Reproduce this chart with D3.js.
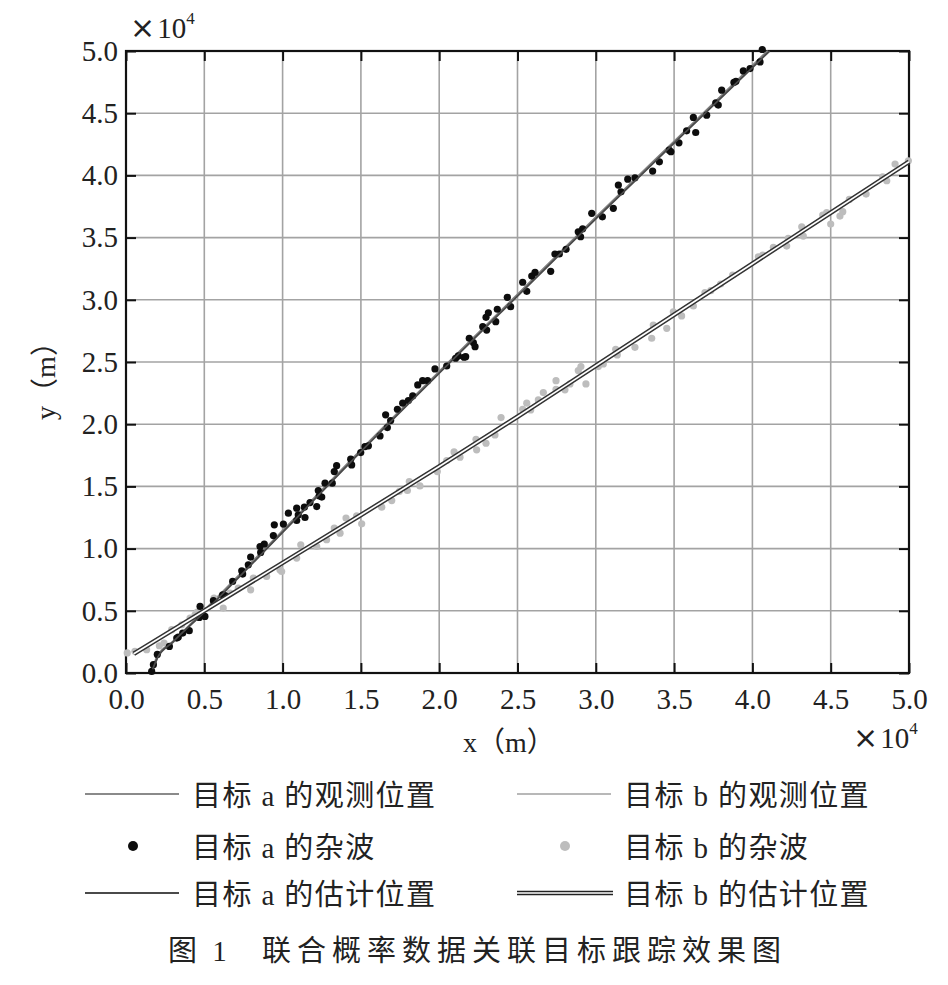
<!DOCTYPE html>
<html>
<head>
<meta charset="utf-8">
<script src="https://cdn.jsdelivr.net/npm/d3@7"></script>
<style>
  html, body { margin: 0; padding: 0; background: #fff; }
  svg { display: block; }
  .serif { font-family: "Liberation Serif", "Noto Sans CJK SC", serif; }
  .cjk { font-family: "Liberation Serif", "Noto Sans CJK SC", serif; }
</style>
</head>
<body>
<svg id="chart" width="948" height="985"></svg>
<script>
// ---------- data (axis units are ×10^4 m, as displayed) ----------
const xTicks = [0, 0.5, 1, 1.5, 2, 2.5, 3, 3.5, 4, 4.5, 5];
const yTicks = [0, 0.5, 1, 1.5, 2, 2.5, 3, 3.5, 4, 4.5, 5];

// target a: observed track and estimated track
const aObsX = [0.166, 0.20, 0.30, 0.50, 1.00, 1.50, 2.00, 2.50, 3.00, 3.50, 4.10];
const aObsY = [0.00, 0.13, 0.25, 0.50, 1.14, 1.79, 2.42, 3.04, 3.66, 4.27, 5.00];
const aEstX = [0.170, 0.20, 0.30, 0.50, 1.00, 1.50, 2.00, 2.50, 3.00, 3.50, 4.11];
const aEstY = [0.03, 0.12, 0.25, 0.49, 1.13, 1.78, 2.41, 3.03, 3.65, 4.26, 5.00];

// target b: observed track and estimated track
const bObsX = [0.05, 0.50, 1.00, 1.50, 2.00, 2.50, 3.00, 3.50, 4.00, 4.50, 5.00];
const bObsY = [0.16, 0.50, 0.89, 1.27, 1.67, 2.07, 2.47, 2.88, 3.29, 3.70, 4.11];
const bEstX = [0.05, 0.50, 1.00, 1.50, 2.00, 2.50, 3.00, 3.50, 4.00, 4.50, 5.00];
const bEstY = [0.155, 0.50, 0.885, 1.27, 1.66, 2.06, 2.47, 2.88, 3.29, 3.70, 4.11];

// clutter of target a (black dots)
const aClutX = [0.164,0.175,0.200,0.277,0.324,0.334,0.362,0.404,0.473,0.468,0.504,0.558,0.617,0.632,0.681,0.739,0.745,0.781,0.796,0.856,0.860,0.883,0.941,0.947,1.005,1.037,1.090,1.090,1.100,1.143,1.139,1.175,1.218,1.228,1.234,1.250,1.271,1.317,1.330,1.345,1.435,1.441,1.499,
  1.526,1.548,1.622,1.669,1.658,1.690,1.733,1.767,1.803,1.831,1.863,1.894,1.926,1.973,2.048,2.105,2.122,2.159,2.169,2.192,2.218,2.229,2.278,2.303,2.299,2.314,2.361,2.371,2.435,2.456,2.533,2.559,2.591,2.612,2.712,2.739,2.767,2.810,2.888,2.903,2.916,2.974,
  3.042,3.112,3.144,3.161,3.204,3.250,3.363,3.406,3.469,3.480,3.531,3.580,3.638,3.623,3.708,3.766,3.782,3.804,3.882,3.895,3.942,3.985,4.049,4.063];
const aClutY = [0.013,0.067,0.149,0.214,0.281,0.289,0.321,0.340,0.535,0.447,0.455,0.581,0.629,0.623,0.736,0.822,0.795,0.870,0.932,1.017,0.969,1.036,1.105,1.191,1.197,1.285,1.325,1.226,1.271,1.250,1.333,1.370,1.338,1.467,1.424,1.414,1.526,1.526,1.619,1.667,1.719,1.673,1.772,
  1.820,1.826,1.906,1.973,2.075,2.029,2.120,2.169,2.190,2.227,2.316,2.350,2.350,2.444,2.468,2.530,2.549,2.538,2.543,2.691,2.656,2.623,2.784,2.757,2.859,2.896,2.824,2.924,3.020,2.945,3.141,3.068,3.191,3.221,3.229,3.368,3.368,3.406,3.547,3.507,3.571,3.695,
  3.667,3.735,3.922,3.868,3.970,3.981,4.035,4.109,4.203,4.190,4.262,4.358,4.345,4.466,4.484,4.583,4.565,4.685,4.747,4.757,4.840,4.859,4.912,5.012];

// clutter of target b (grey dots)
const bClutX = [0.008,0.057,0.132,0.213,0.243,0.292,0.356,0.409,0.441,0.455,0.562,0.621,0.664,0.717,0.796,0.813,0.898,0.983,0.994,1.090,1.116,1.218,1.281,1.330,1.367,1.405,1.473,1.505,1.633,1.697,1.745,
  1.797,1.809,1.877,1.988,2.048,2.095,2.133,2.235,2.239,2.299,2.356,2.395,2.533,2.559,2.584,2.633,2.665,2.746,2.746,2.803,2.835,2.888,2.905,2.937,3.016,
  3.048,3.127,3.137,3.250,3.357,3.367,3.453,3.495,3.548,3.623,3.697,3.734,3.797,3.874,4.038,4.066,4.134,4.219,4.229,4.315,4.325,4.449,4.474,4.500,4.559,4.577,4.619,4.726,4.832,4.858,4.911,4.996];
const bClutY = [0.161,0.174,0.187,0.219,0.241,0.348,0.388,0.442,0.468,0.490,0.602,0.522,0.643,0.683,0.669,0.763,0.776,0.830,0.816,0.924,1.031,1.017,1.071,1.165,1.124,1.245,1.263,1.199,1.333,1.386,1.459,
  1.467,1.539,1.504,1.619,1.708,1.777,1.735,1.879,1.794,1.847,1.914,2.053,2.120,2.169,2.115,2.195,2.254,2.350,2.281,2.276,2.324,2.431,2.463,2.324,2.463,
  2.484,2.602,2.557,2.618,2.691,2.797,2.771,2.904,2.870,2.950,3.057,3.073,3.127,3.199,3.346,3.360,3.421,3.432,3.494,3.587,3.512,3.681,3.700,3.609,3.673,3.708,3.807,3.850,3.989,3.957,4.091,4.117];

const legendItems = [
  {label: "目标 a 的观测位置", kind: "line", col: 0, row: 0},
  {label: "目标 b 的观测位置", kind: "line", col: 1, row: 0},
  {label: "目标 a 的杂波", kind: "dot", col: 0, row: 1},
  {label: "目标 b 的杂波", kind: "dot", col: 1, row: 1},
  {label: "目标 a 的估计位置", kind: "line", col: 0, row: 2},
  {label: "目标 b 的估计位置", kind: "double", col: 1, row: 2}
];
const caption = ["图 1", "联合概率数据关联目标跟踪效果图"];

// ---------- drawing ----------
const svg = d3.select("#chart");
const L = 126, R = 909, T = 51, B = 673;
const x = d3.scaleLinear().domain([0, 5]).range([L, R]);
const y = d3.scaleLinear().domain([0, 5]).range([B, T]);
const zip = (xs, ys) => xs.map((v, i) => [v, ys[i]]);

// grid
const grid = svg.append("g");
grid.selectAll(".gx").data(xTicks.slice(1, -1)).join("line")
  .attr("x1", d => x(d)).attr("x2", d => x(d)).attr("y1", T).attr("y2", B)
  .attr("stroke", "#a3a3a3").attr("stroke-width", 1.6);
grid.selectAll(".gy").data(yTicks.slice(1, -1)).join("line")
  .attr("y1", d => y(d)).attr("y2", d => y(d)).attr("x1", L).attr("x2", R)
  .attr("stroke", "#a3a3a3").attr("stroke-width", 1.6);

// axes (ticks inward)
const fmt = d3.format(".1f");
const styleAxis = g => {
  g.select(".domain").remove();
  g.selectAll(".tick line").attr("stroke", "#111").attr("stroke-width", 2);
  g.selectAll(".tick text").attr("fill", "#222").attr("class", "serif").attr("font-size", 29);
};
svg.append("g").attr("transform", `translate(0,${B})`)
  .call(d3.axisBottom(x).tickValues(xTicks).tickFormat(fmt).tickSizeInner(-10).tickSizeOuter(0).tickPadding(14))
  .call(styleAxis)
  .call(g => g.selectAll(".tick text").attr("dy", "0.75em"));
svg.append("g").attr("transform", `translate(0,${T})`)
  .call(d3.axisTop(x).tickValues(xTicks).tickFormat("").tickSizeInner(-10).tickSizeOuter(0))
  .call(styleAxis);
svg.append("g").attr("transform", `translate(${L},0)`)
  .call(d3.axisLeft(y).tickValues(yTicks).tickFormat(fmt).tickSizeInner(-10).tickSizeOuter(0).tickPadding(8))
  .call(styleAxis);
svg.append("g").attr("transform", `translate(${R},0)`)
  .call(d3.axisRight(y).tickValues(yTicks).tickFormat("").tickSizeInner(-10).tickSizeOuter(0))
  .call(styleAxis);

// frame
svg.append("rect").attr("x", L).attr("y", T).attr("width", R - L).attr("height", B - T)
  .attr("fill", "none").attr("stroke", "#111").attr("stroke-width", 2.2);

// lines
const line = d3.line().x(d => x(d[0])).y(d => y(d[1])).curve(d3.curveMonotoneX);
const plot = svg.append("g");
plot.append("path").attr("d", line(zip(bObsX, bObsY))).attr("fill", "none")
  .attr("stroke", "#b8b8b8").attr("stroke-width", 2);
plot.append("path").attr("d", line(zip(aObsX, aObsY))).attr("fill", "none")
  .attr("stroke", "#808080").attr("stroke-width", 2.6);

// clutter dots
plot.selectAll(".bd").data(zip(bClutX, bClutY)).join("circle")
  .attr("cx", d => x(d[0])).attr("cy", d => y(d[1])).attr("r", 3.6).attr("fill", "#bdbdbd");
plot.selectAll(".ad").data(zip(aClutX, aClutY)).join("circle")
  .attr("cx", d => x(d[0])).attr("cy", d => y(d[1])).attr("r", 3.6).attr("fill", "#0d0d0d");

// estimated lines
plot.append("path").attr("d", line(zip(aEstX, aEstY))).attr("fill", "none")
  .attr("stroke", "#4a4a4a").attr("stroke-width", 1.8);
plot.append("path").attr("d", line(zip(bEstX, bEstY))).attr("fill", "none")
  .attr("stroke", "#333").attr("stroke-width", 4.6);
plot.append("path").attr("d", line(zip(bEstX, bEstY))).attr("fill", "none")
  .attr("stroke", "#fff").attr("stroke-width", 1.6);

// exponent labels
const expo = (xx, yy) => {
  const t = svg.append("text").attr("x", xx).attr("y", yy).attr("fill", "#222");
  t.append("tspan").attr("font-family", "'DejaVu Sans', sans-serif").attr("font-size", 30).text("×");
  t.append("tspan").attr("font-family", "'Liberation Serif', serif").attr("font-size", 29).attr("dx", 2).text("10");
  t.append("tspan").attr("font-family", "'Liberation Serif', serif").attr("font-size", 17).attr("dy", -14).text("4");
};
expo(130, 38);
expo(853, 748);

// axis labels
svg.append("text").attr("class", "cjk").attr("x", 463).attr("y", 742)
  .attr("dominant-baseline", "central").attr("font-size", 28).attr("fill", "#222").text("x（m）");
svg.append("text").attr("class", "cjk")
  .attr("transform", "translate(45,374) rotate(-90)")
  .attr("text-anchor", "middle").attr("dominant-baseline", "central")
  .attr("font-size", 28).attr("fill", "#222").text("y（m）");

// legend
const colX = [85, 517], rowY = [794, 846, 893];
const lg = svg.append("g");
legendItems.forEach(it => {
  const x0 = colX[it.col], yy = rowY[it.row];
  const g = lg.append("g");
  if (it.kind === "line") {
    const stroke = it.col === 0 ? (it.row === 0 ? "#8a8a8a" : "#4a4a4a") : "#b8b8b8";
    g.append("line").attr("x1", x0).attr("x2", x0 + 94).attr("y1", yy).attr("y2", yy)
      .attr("stroke", stroke).attr("stroke-width", 2);
  } else if (it.kind === "dot") {
    g.append("circle").attr("cx", x0 + 48).attr("cy", yy).attr("r", 5)
      .attr("fill", it.col === 0 ? "#0d0d0d" : "#bdbdbd");
  } else {
    g.append("line").attr("x1", x0).attr("x2", x0 + 96).attr("y1", yy).attr("y2", yy)
      .attr("stroke", "#222").attr("stroke-width", 4.4);
    g.append("line").attr("x1", x0).attr("x2", x0 + 96).attr("y1", yy).attr("y2", yy)
      .attr("stroke", "#fff").attr("stroke-width", 1.6);
  }
  g.append("text").attr("class", "cjk").attr("x", x0 + 107).attr("y", yy + 2)
    .attr("dominant-baseline", "central").attr("font-size", 29).attr("fill", "#222")
    .attr("letter-spacing", 1.4).text(it.label);
});

// caption
svg.append("text").attr("class", "cjk").attr("x", 168).attr("y", 951)
  .attr("dominant-baseline", "central").attr("font-size", 29).attr("fill", "#222")
  .attr("letter-spacing", 4).text(caption[0]);
svg.append("text").attr("class", "cjk").attr("x", 262).attr("y", 951)
  .attr("dominant-baseline", "central").attr("font-size", 29).attr("fill", "#222")
  .attr("letter-spacing", 6).text(caption[1]);
</script>
</body>
</html>
